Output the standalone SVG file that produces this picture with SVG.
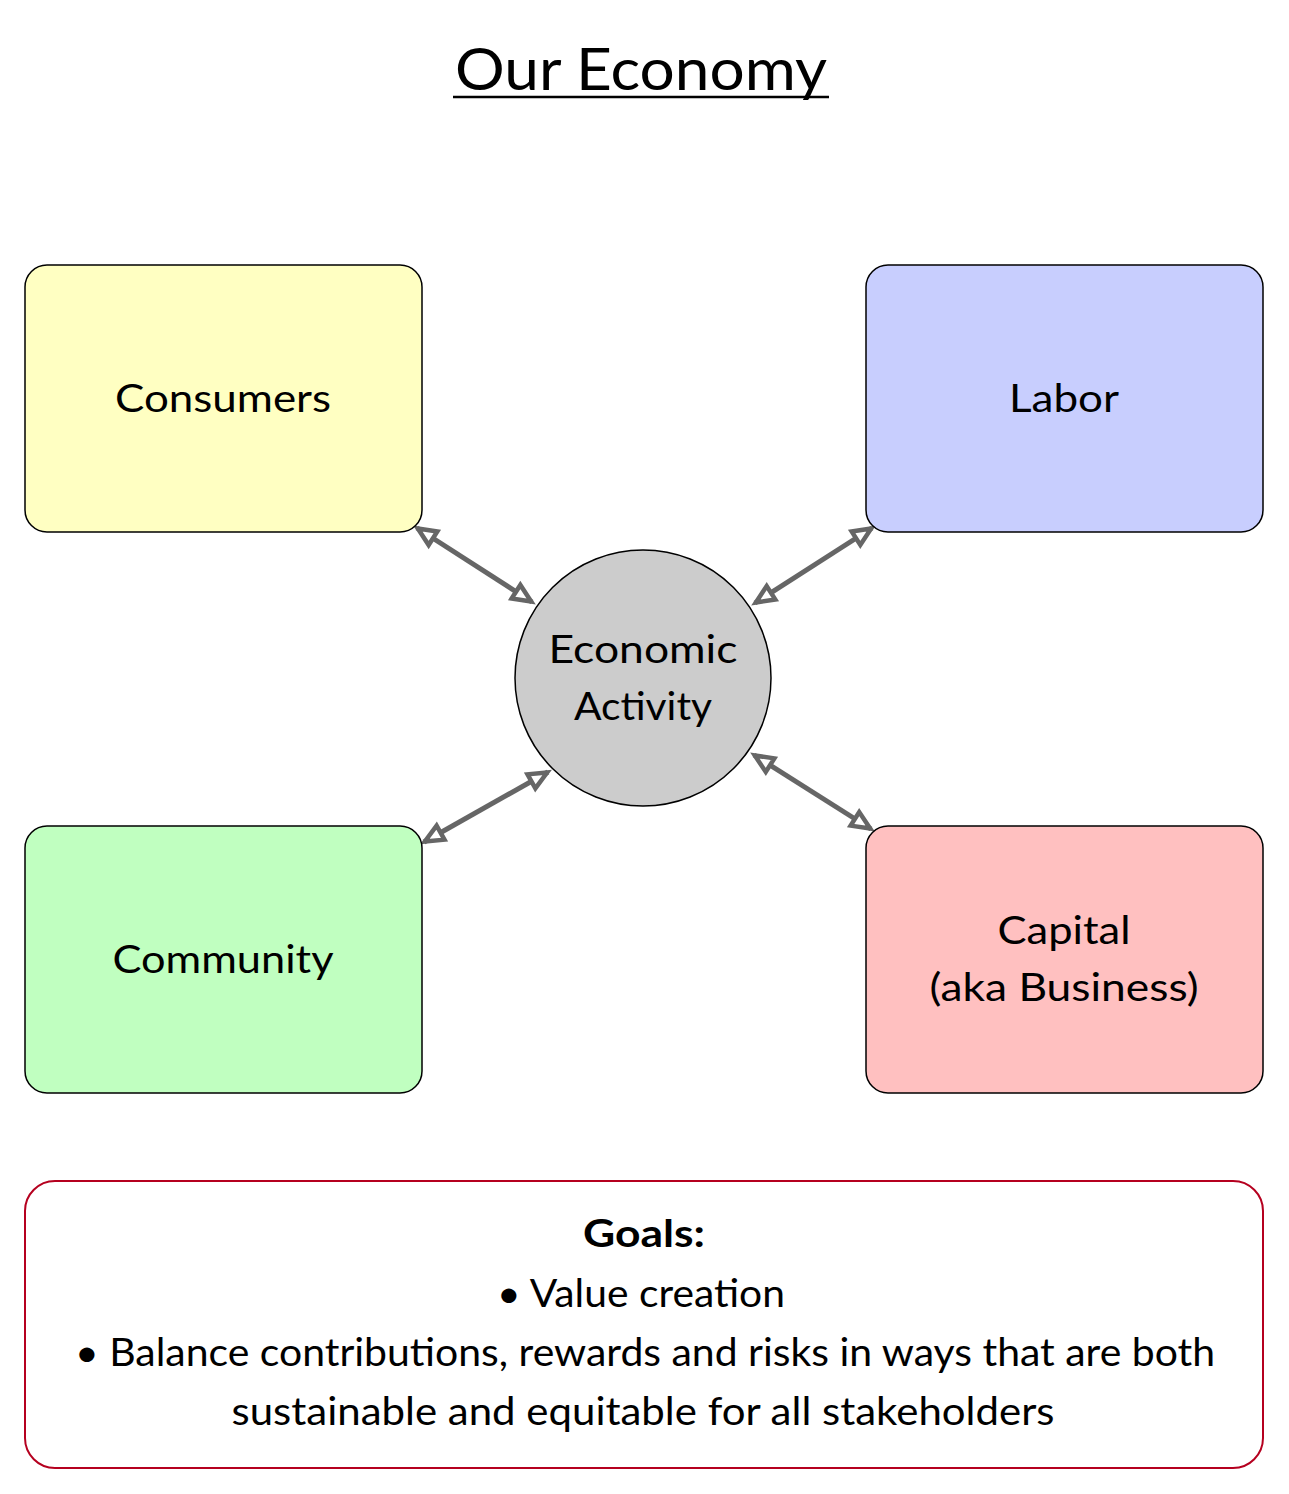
<svg xmlns="http://www.w3.org/2000/svg" width="1289" height="1494" viewBox="0 0 1289 1494">
<style>
text{font-family:Lato,"Noto Sans","Liberation Sans",sans-serif;fill:#000;text-anchor:middle}
.box{stroke:#000;stroke-width:1.5}
.lbl{font-size:39px}
.g{font-size:38px}
.conn{stroke:#666;stroke-width:5;fill:none;marker-start:url(#ah);marker-end:url(#ah)}
</style>
<defs>
<marker id="ah" markerUnits="userSpaceOnUse" viewBox="-2 -10 24 20" refX="0" refY="0" markerWidth="24" markerHeight="20" orient="auto-start-reverse" overflow="visible">
<path d="M-1,0 L-19,-8 L-19,8 Z" fill="#fff" stroke="#666" stroke-width="4.5" stroke-linejoin="miter"/>
</marker>
</defs>
<rect width="1289" height="1494" fill="#fff"/>
<g id="title">
<text x="641" y="90" style="font-size:58px" textLength="372" lengthAdjust="spacingAndGlyphs">Our Economy</text>
<line x1="453" y1="97" x2="829" y2="97" stroke="#000" stroke-width="2.5"/>
</g>
<g id="connectors">
<line class="conn" x1="417" y1="528" x2="532" y2="602"/>
<line class="conn" x1="872" y1="528" x2="755" y2="603"/>
<line class="conn" x1="548" y1="772" x2="424" y2="842"/>
<line class="conn" x1="754" y1="755" x2="871" y2="829"/>
</g>
<g id="consumers">
<rect class="box" x="25" y="265" width="397" height="267" rx="22" fill="#ffffc2"/>
<text class="lbl" x="223" y="412" textLength="216" lengthAdjust="spacingAndGlyphs">Consumers</text>
</g>
<g id="labor">
<rect class="box" x="866" y="265" width="397" height="267" rx="22" fill="#c8cefe"/>
<text class="lbl" x="1064" y="412" textLength="110" lengthAdjust="spacingAndGlyphs">Labor</text>
</g>
<g id="community">
<rect class="box" x="25" y="826" width="397" height="267" rx="22" fill="#c0ffc0"/>
<text class="lbl" x="223" y="973" textLength="221" lengthAdjust="spacingAndGlyphs">Community</text>
</g>
<g id="capital">
<rect class="box" x="866" y="826" width="397" height="267" rx="22" fill="#ffc0c0"/>
<text class="lbl" x="1064" y="944" textLength="133" lengthAdjust="spacingAndGlyphs">Capital</text>
<text class="lbl" x="1064" y="1001" textLength="269" lengthAdjust="spacingAndGlyphs">(aka Business)</text>
</g>
<g id="economic-activity">
<circle cx="643" cy="678" r="128" fill="#cccccc" stroke="#000" stroke-width="1.5"/>
<text class="lbl" x="643" y="663" textLength="189" lengthAdjust="spacingAndGlyphs">Economic</text>
<text class="lbl" x="643" y="720" textLength="138" lengthAdjust="spacingAndGlyphs">Activity</text>
</g>
<g id="goals">
<rect x="25" y="1181" width="1238" height="287" rx="30" fill="#fff" stroke="#b5001f" stroke-width="2"/>
<text class="g" x="644" y="1247" font-weight="bold" textLength="122" lengthAdjust="spacingAndGlyphs">Goals:</text>
<text class="g" x="641" y="1307" textLength="288" lengthAdjust="spacingAndGlyphs">• Value creation</text>
<text class="g" x="645" y="1366" textLength="1140" lengthAdjust="spacingAndGlyphs">• Balance contributions, rewards and risks in ways that are both</text>
<text class="g" x="643" y="1425" textLength="823" lengthAdjust="spacingAndGlyphs">sustainable and equitable for all stakeholders</text>
</g>
</svg>
